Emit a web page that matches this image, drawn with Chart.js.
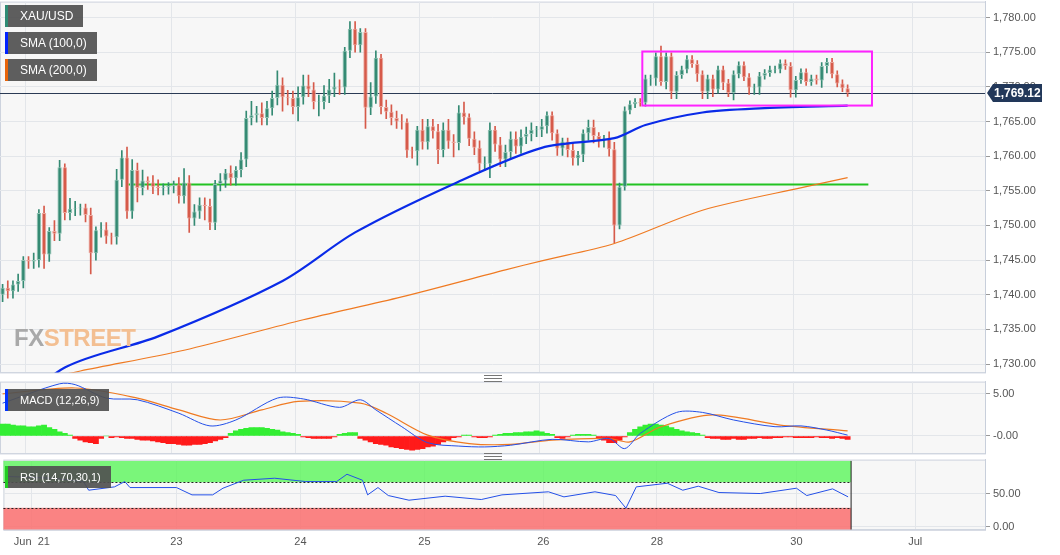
<!DOCTYPE html>
<html><head><meta charset="utf-8">
<script src="https://cdn.jsdelivr.net/npm/chart.js@4"></script>
<style>
body{margin:0;background:#fff;font-family:"Liberation Sans",Arial,sans-serif;overflow:hidden;}
#wrap{position:relative;width:1060px;height:555px;background:#fff;overflow:hidden;}
.pane{position:absolute;left:0;width:1060px;}
.tag{position:absolute;left:5px;height:22px;line-height:22px;background:rgba(80,80,80,0.92);color:#fff;font-size:12px;padding:0 10px 0 12px;border-left:3px solid;}
.hnd{position:absolute;left:484px;width:18px;height:5px;border-top:1px solid #777;border-bottom:1px solid #777;}
.hnd:after{content:"";position:absolute;left:0;right:0;top:2px;border-top:1px solid #777;}
#wm{position:absolute;left:14px;top:324px;font:bold 24px "Liberation Sans",sans-serif;letter-spacing:-0.5px;}
</style></head><body>
<div id="wrap">
<div class="pane" style="top:-8px;height:390px"><canvas id="c1"></canvas></div>
<div class="pane" style="top:372px;height:91px"><canvas id="c2"></canvas></div>
<div class="pane" style="top:450px;height:105px"><canvas id="c3"></canvas></div>
<div class="tag" style="top:5px;border-color:#2e8b74">XAU/USD</div>
<div class="tag" style="top:32px;border-color:#0022ff">SMA (100,0)</div>
<div class="tag" style="top:59px;border-color:#e8640a">SMA (200,0)</div>
<div class="tag" style="top:389px;border-color:#0033ff;font-size:11px">MACD (12,26,9)</div>
<div class="tag" style="top:466px;border-color:#22cc22;font-size:11px">RSI (14,70,30,1)</div>
<div class="hnd" style="top:375px"></div>
<div class="hnd" style="top:453px"></div>
<div id="wm"><span style="color:#a9a9a9">FX</span><span style="color:#f3bf92">STREET</span></div>
</div>
<script>
const TOTAL = 190;
const closes = [1741.0,1740.5,1741.5,1742.0,1745.0,1744.8,1745.0,1751.8,1745.8,1749.2,
1748.8,1758.4,1751.8,1752.4,1752.5,1752.6,1751.5,1746.0,1749.3,1749.4,
1748.4,1748.3,1756.6,1759.8,1752.0,1758.0,1755.4,1756.5,1756.2,1755.6,
1755.4,1755.5,1755.7,1755.9,1754.2,1756.2,1751.0,1752.0,1753.0,1752.8,
1750.4,1756.0,1756.5,1757.6,1756.8,1758.0,1759.5,1765.5,1765.9,1766.2,
1765.5,1766.9,1768.4,1770.3,1768.5,1768.4,1767.1,1768.5,1770.2,1769.6,
1767.8,1767.8,1768.7,1769.6,1770.0,1769.9,1775.2,1778.4,1776.0,1777.9,
1767.0,1768.6,1774.2,1767.1,1766.4,1765.5,1765.0,1764.9,1760.8,1760.7,
1763.8,1762.0,1764.3,1763.6,1760.9,1763.8,1762.1,1761.9,1766.3,1765.6,
1762.5,1761.2,1758.9,1758.9,1763.8,1761.7,1759.5,1760.6,1762.5,1761.4,
1762.8,1763.2,1763.8,1763.8,1764.3,1765.9,1763.3,1761.1,1762.1,1760.9,
1759.7,1760.2,1763.3,1764.2,1762.9,1762.3,1762.5,1761.0,1750.0,1755.6,
1766.6,1767.5,1767.8,1767.7,1771.2,1771.2,1774.4,1770.7,1774.4,1769.3,
1771.7,1772.5,1774.0,1773.3,1771.8,1769.3,1771.2,1769.6,1772.5,1770.6,
1769.1,1771.8,1773.1,1771.4,1769.9,1769.9,1771.6,1772.0,1772.5,1772.5,
1773.4,1773.0,1769.5,1771.0,1772.1,1770.7,1771.2,1770.9,1773.0,1773.6,
1771.8,1770.5,1769.8,1769.12];
const firstOpen = 1740.0;
const wickUp = [0.5,1,0.5,1,0.5,0.5,1,0.5,1,0.5, 1.5,1,0.5,1.5,1,0.5,0.5,1,0.5,1,
1,0.5,1.5,1,1.5,1.5,1,1.5,0.5,1, 1,0.5,0.5,0.5,1,2,1,1,1,1, 1,0.5,1,0.5,1,0.5,1,1,2,1,
1.5,1,1,2,1,1,1,1.5,1.5,1.5, 1,1,1.5,1.5,2,1,0.5,1,1,0.5, 0.5,2,1,0.5,1,1,1,1,0.5,0.5,
0.5,1.5,1,1,1,1,1.5,1,1,1.5, 0.5,1,1,1,1,0.5,1,1,1,1, 1,1,1,0.5,1,0.5,0.5,0.5,0.5,0.5,
1,0.5,0.5,1,1,0.5,0.5,1,1,0.5, 0.5,0.5,0.5,0.5,0.5,0.5,0.5,1.5,0.5,0.5, 0.5,0.5,0.5,0.5,0.5,0.5,0.5,0.5,0.5,0.5,
0.5,0.5,0.5,0.5,0.5,0.5,0.5,0.5,0.5,0.5, 0.5,0.5,0.5,0.5,0.5,0.5,0.5,0.5,0.5,0.5, 0.5,0.5,0.5,0.5];
const wickDn = [1,1,1,1,1,1,1,1,2,1, 1,1,1,1,1,1,1,3,1,1, 1,1,1,1,1,1,2,1,1,1, 1,1,1,1,1,1,2,1,1,2,
1,1,1,1,1,1,1,1,1,1, 1,1,1,1,2,1,1,2,1,1, 1,2,1,1,1,1,1,1,1,1, 3,1,1,1,1,1,1,1,1,1,
2,1,1,1,2,1,1,2,1,1, 1,1,1,1,2,1,1,1,1,1, 1,1,1,1,1,1,1,1,1,1, 1,1,1,1,1,1,1,1,2.5,0.5,
0.5,0.5,0.5,0.5,0.5,1,1,0.5,1,1, 1,0.5,0.5,0.5,1,1,1,1,0.5,1, 0.5,1,0.5,0.5,1,1,1,0.5,0.5,0.5,
0.5,0.5,1,1,0.5,0.5,0.5,0.5,1,1, 0.5,0.5,0.5,0.5];
const sma100Pts = [[0,1722],[12,1729.5],[30,1734],[54,1742],[68,1749],[87,1756],[104,1761.2],[118,1762.6],[124,1764.5],[135,1766.3],[146,1766.9],[163,1767.3]];
const sma200Pts = [[0,1726.5],[15,1729],[35,1732],[58,1736.4],[77,1739.7],[97,1743.6],[104,1744.9],[118,1747.4],[135,1752.2],[155,1755.6],[163,1756.9]];
const priceTicks = [1730,1735,1740,1745,1750,1755,1760,1765,1770,1775,1780];
const supportLevel = 1755.9, supportFrom = 24, supportTo = 167;
const boxLo = 1767.3, boxHi = 1775.1, boxFrom = 123.4, boxTo = 167.7;
const lastPrice = 1769.12;
const macdPts = [[0,3.9],[11,6.2],[14,6.1],[20,4.5],[26,4.3],[34,2.7],[40,1.2],[45,1.9],[53,4.5],[58,4.4],[65,3.4],[69,4.3],[72,3.1],[77,1.1],[82,-0.8],[88,-1.2],[93,-1.3],[98,-1.1],[106,-0.4],[113,-0.7],[117,-0.3],[120,-1.5],[123,0.3],[130,2.8],[135,2.8],[141,1.9],[149,1.1],[154,1.2],[159,0.7],[163,0.1]];
const signalPts = [[0,5.0],[14,5.7],[26,4.5],[34,3.1],[42,1.9],[50,3.1],[57,4.1],[69,3.9],[74,2.7],[82,0.1],[90,-0.9],[98,-1.0],[106,-0.5],[117,-0.3],[121,-0.7],[127,1.1],[137,2.5],[150,1.3],[163,0.6]];
const macdTicks = [0,5];
const hist = [1.4,1.4,1.3,1.2,1.2,1.1,1.1,1.2,1.3,1.0,0.8,0.5,0.3,0.1,
-0.3,-0.5,-0.7,-0.8,-0.9,-0.3,0,-0.2,
-0.1,-0.2,-0.3,-0.3,-0.4,-0.5,-0.5,-0.6,-0.7,-0.8,-0.9,-0.9,-1.0,-1.1,-1.1,-1.0,-1.0,-0.9,-0.8,-0.6,-0.4,-0.2,
0.3,0.6,0.8,0.9,1.0,1.0,1.0,0.9,0.8,0.7,0.5,0.4,0.3,0.2,
-0.1,-0.2,-0.3,-0.3,-0.3,-0.3,-0.1, 0.2,0.3,0.4,0.4,
-0.3,-0.5,-0.7,-0.9,-1.0,-1.1,-1.3,-1.4,-1.5,-1.6,-1.7,-1.6,-1.5,-1.3,-1.2,-1.0,-0.7,-0.5,-0.2,
-0.1,0.1,0.1,-0.1,-0.2,-0.2,-0.1,0.1,0.2,0.3, 0.3,0.4,0.4,0.5,0.5,0.6,0.5,0.3,0.2,
-0.2,-0.3,-0.1,0.1,0.2,0.2,0.2,0.1,-0.2,-0.5,-0.8, -0.8,-0.5,-0.1,
0.4,0.8,1.1,1.3,1.4,1.4,1.3,1.2,1.0,0.8,0.6,0.5,0.4,0.3,0.1,
-0.2,-0.3,-0.3,-0.4,-0.4,-0.3,-0.4,-0.4,-0.3,-0.3,-0.2,-0.3,-0.3,-0.2,-0.2,-0.1,-0.1,-0.2,-0.2,-0.2,-0.2,-0.1,-0.2,-0.2,-0.3,-0.2,-0.3,-0.4];
const rsiPts = [[0,75.8],[9,73],[15,68],[16,55],[21,60],[23,68],[24,59],[33,59],[36,48],[40,48],[42,58],[46,70],[52,73],[58,68],[64,68],[66,79],[69,70],[70,48],[72,59],[74,47],[78,40],[85,46],[92,41],[96,48],[105,52.6],[108,45],[114,52.6],[118,47],[120,28],[122,60],[128,65.5],[131,55],[134,61],[138,51.5],[146,50],[153,58],[155,47],[160,57],[163,45]];
const rsiTicks = [0,50];
const xTicks = [[5,'Jun  21'],[33,'23'],[57,'24'],[81,'25'],[104,'26'],[126,'28'],[153,'30'],[176,'Jul']];

const N = closes.length;
const labels = Array.from({length:TOTAL},(_,i)=>i);
const opens = closes.map((c,i)=> i===0 ? firstOpen : closes[i-1]);
const bodies = closes.map((c,i)=>[opens[i], c===opens[i]? c+0.08 : c]);
const wicks = closes.map((c,i)=>[Math.min(opens[i],c)-wickDn[i], Math.max(opens[i],c)+wickUp[i]]);
const GREEN='#348a73', RED='#d65a4a';
const cols = closes.map((c,i)=> c>=opens[i]?GREEN:RED);
function sparse(pts){const a=new Array(TOTAL).fill(null);pts.forEach(([i,v])=>a[i]=v);return a;}
const tickMap = Object.fromEntries(xTicks);
const gridCol = ctx => tickMap[ctx.index]!==undefined ? '#e3e6ea' : 'transparent';
const Y_W = 75;
function xAxis(show){return {type:'category',offset:true,grid:{color:gridCol,drawTicks:false},border:{display:true,color:'#d0d6e0'},
  afterFit:s=>{if(!show)s.height=0;},
  ticks:{display:show,autoSkip:false,maxRotation:0,padding:6,color:'#555',font:{size:11,family:'Liberation Sans'},callback:(v,i)=>tickMap[i]||''}};}
function yAxis(min,max,list,fmt){return {position:'right',min,max,afterFit:s=>{s.width=Y_W;},
  afterBuildTicks:s=>{s.ticks=list.map(v=>({value:v}));},
  grid:{color:'#e3e6ea',drawTicks:true,tickLength:5,tickColor:'#999'},border:{color:'#c8cfdb'},
  ticks:{color:'#555',font:{size:11,family:'Liberation Sans'},padding:3,callback:fmt}};}
const bgPlugin={id:'bg',beforeDraw(ch){const a=ch.chartArea,c=ch.ctx;c.save();c.fillStyle='#f7f7f7';c.fillRect(a.left,a.top,a.right-a.left,a.bottom-a.top);c.strokeStyle='#cdd3de';c.strokeRect(a.left+0.5,a.top+0.5,a.right-a.left,a.bottom-a.top);c.restore();}};
const fmtP = v=>v.toLocaleString('en-US',{minimumFractionDigits:2,maximumFractionDigits:2});

const mainPlugin={id:'main',
 beforeDatasetsDraw(ch){const x=ch.scales.x,y=ch.scales.y,c=ch.ctx,a=ch.chartArea;c.save();
  c.strokeStyle='#22c322';c.lineWidth=2;c.beginPath();const yy=y.getPixelForValue(supportLevel);
  c.moveTo(x.getPixelForValue(supportFrom),yy);c.lineTo(x.getPixelForValue(supportTo),yy);c.stroke();
  c.strokeStyle='#2b3b55';c.lineWidth=1;const yp=Math.round(y.getPixelForValue(lastPrice))+0.5;c.beginPath();c.moveTo(a.left,yp);c.lineTo(a.right,yp);c.stroke();c.restore();},
 afterDatasetsDraw(ch){const x=ch.scales.x,y=ch.scales.y,c=ch.ctx,a=ch.chartArea;c.save();
  const step=x.getPixelForValue(1)-x.getPixelForValue(0);const x0=x.getPixelForValue(0)+(boxFrom)*step, x1=x.getPixelForValue(0)+boxTo*step;
  c.strokeStyle='#ff22ff';c.lineWidth=2;c.strokeRect(x0,y.getPixelForValue(boxHi),x1-x0,y.getPixelForValue(boxLo)-y.getPixelForValue(boxHi));
  const yp=y.getPixelForValue(lastPrice);c.fillStyle='#22385a';
  c.beginPath();c.moveTo(a.right+2,yp);c.lineTo(a.right+8,yp-9);c.lineTo(a.right+57,yp-9);c.lineTo(a.right+57,yp+9);c.lineTo(a.right+8,yp+9);c.closePath();c.fill();
  c.fillStyle='#fff';c.font='bold 12px "Liberation Sans"';c.textBaseline='middle';c.fillText(fmtP(lastPrice),a.right+9,yp+1);c.restore();}};

new Chart(document.getElementById('c1'),{type:'bar',plugins:[bgPlugin,mainPlugin],
 data:{labels,datasets:[
  {type:'line',data:sparse(sma100Pts),borderColor:'#0a2be8',borderWidth:2.2,pointRadius:0,spanGaps:true,tension:0.3,order:0},
  {type:'line',data:sparse(sma200Pts),borderColor:'#ef7a22',borderWidth:1.2,pointRadius:0,spanGaps:true,tension:0.3,order:0},
  {data:wicks,backgroundColor:cols,barThickness:1,grouped:false,order:2},
  {data:bodies,backgroundColor:cols,borderColor:cols.map(c=>c===GREEN?'#8fc2b2':'#eba59b'),borderWidth:1,borderSkipped:false,barPercentage:0.85,categoryPercentage:1,grouped:false,order:1}
 ]},
 options:{responsive:true,maintainAspectRatio:false,animation:false,events:[],layout:{padding:{top:2,left:0,right:0,bottom:0}},
  plugins:{legend:{display:false},tooltip:{enabled:false}},
  scales:{x:xAxis(false),y:yAxis(1728.8,1782.3,priceTicks,v=>fmtP(v))}}});

new Chart(document.getElementById('c2'),{type:'bar',plugins:[bgPlugin],
 data:{labels,datasets:[
  {type:'line',data:sparse(macdPts),borderColor:'#2450e8',borderWidth:1,pointRadius:0,spanGaps:true,tension:0.3,order:0},
  {type:'line',data:sparse(signalPts),borderColor:'#ef7a22',borderWidth:1.2,pointRadius:0,spanGaps:true,tension:0.3,order:0},
  {data:hist,backgroundColor:hist.map(v=>v>=0?'#33ee33':'#ff1a1a'),barPercentage:1,categoryPercentage:1,order:1}
 ]},
 options:{responsive:true,maintainAspectRatio:false,animation:false,events:[],layout:{padding:{top:0,bottom:0}},
  plugins:{legend:{display:false},tooltip:{enabled:false}},
  scales:{x:xAxis(false),y:yAxis(-2.07,6.46,macdTicks,v=>v===5?'5.00':'-0.00')}}});

const rsiPlugin={id:'rsi',beforeDatasetsDraw(ch){const x=ch.scales.x,y=ch.scales.y,c=ch.ctx,a=ch.chartArea;c.save();
  const xe=x.getPixelForValue(N-1)+3;
  c.fillStyle='rgba(90,245,90,0.8)';c.fillRect(a.left,y.getPixelForValue(99),xe-a.left,y.getPixelForValue(67)-y.getPixelForValue(99));
  c.fillStyle='rgba(250,110,110,0.85)';c.fillRect(a.left,y.getPixelForValue(28.5),xe-a.left,y.getPixelForValue(-4)-y.getPixelForValue(28.5));
  c.strokeStyle='#222';c.setLineDash([2,2]);c.lineWidth=1;
  [67,28.5].forEach(v=>{const yy=Math.round(y.getPixelForValue(v))+0.5;c.beginPath();c.moveTo(a.left,yy);c.lineTo(xe,yy);c.stroke();});
  c.setLineDash([]);c.beginPath();c.moveTo(xe,y.getPixelForValue(99));c.lineTo(xe,y.getPixelForValue(-4));c.stroke();c.restore();}};
new Chart(document.getElementById('c3'),{type:'line',plugins:[bgPlugin,rsiPlugin],
 data:{labels,datasets:[{data:sparse(rsiPts),borderColor:'#2450e8',borderWidth:1,pointRadius:0,spanGaps:true,tension:0}]},
 options:{responsive:true,maintainAspectRatio:false,animation:false,events:[],layout:{padding:{top:0}},
  plugins:{legend:{display:false},tooltip:{enabled:false}},
  scales:{x:xAxis(true),y:yAxis(-4.5,101,rsiTicks,v=>v===50?'50.00':'0.00')}}});
</script></body></html>
